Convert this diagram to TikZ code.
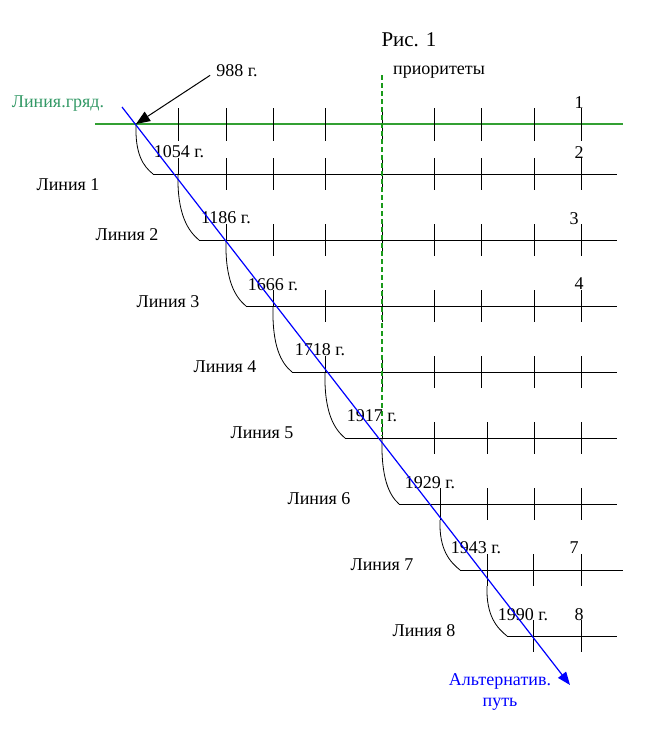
\documentclass[tikz,border=0pt]{standalone}
\usepackage{fontspec}
\setmainfont{Liberation Serif}
\usetikzlibrary{arrows.meta}
\definecolor{grgreen}{HTML}{33A033}
\definecolor{dashgreen}{HTML}{1A9A1A}
\definecolor{txtgreen}{HTML}{339966}
\newcommand{\labfont}{\fontsize{18}{20.5}\selectfont}
\tikzset{
  rowline/.style={line width=0.8pt},
  lab/.style={font=\labfont, inner sep=0pt},
}
\begin{document}
\begin{tikzpicture}[x=1pt, y=-1pt]
\useasboundingbox (0,0) rectangle (649,734);
% crossing points and left ends of the lines
\coordinate (c0) at (136,124);
\coordinate (c1) at (178,174);
\coordinate (c2) at (226,240);
\coordinate (c3) at (273,306);
\coordinate (c4) at (325,372);
\coordinate (c5) at (382,438);
\coordinate (c6) at (440,520);
\coordinate (c7) at (487,586);
\coordinate (L1) at (153,174);
\coordinate (L2) at (199,240);
\coordinate (L3) at (246,306);
\coordinate (L4) at (292,372);
\coordinate (L5) at (345,438);
\coordinate (L6) at (399,504);
\coordinate (L7) at (460,570);
\coordinate (L8) at (507,636);
% lines
\draw[grgreen, line width=1.1pt] (95,124) -- (623,124);
\draw[rowline] (L1) -- (617,174);
\draw[rowline] (L2) -- (617,240);
\draw[rowline] (L3) -- (617,306);
\draw[rowline] (L4) -- (617,372);
\draw[rowline] (L5) -- (617,438);
\draw[rowline] (L6) -- (617,504);
\draw[rowline] (L7) -- (623,570);
\draw[rowline] (L8) -- (617,636);
% ticks
\draw[rowline] (178,108) -- (178,141) (226,108) -- (226,141) (273,108) -- (273,141)
  (325,108) -- (325,141) (382,108) -- (382,141) (434,108) -- (434,141)
  (481,108) -- (481,141) (534,108) -- (534,141) (581,108) -- (581,141);
\draw[rowline] (178,158) -- (c1) (226,158) -- (226,190) (273,158) -- (273,190)
  (325,158) -- (325,190) (382,158) -- (382,190) (434,158) -- (434,190)
  (481,158) -- (481,190) (534,158) -- (534,190) (581,158) -- (581,190);
\draw[rowline] (226,224) -- (c2) (273,224) -- (273,256) (325,224) -- (325,256)
  (382,224) -- (382,256) (434,224) -- (434,256) (481,224) -- (481,256)
  (534,224) -- (534,256) (581,224) -- (581,256);
\draw[rowline] (273,290) -- (c3) (325,290) -- (325,322) (382,290) -- (382,322)
  (434,290) -- (434,322) (481,290) -- (481,322) (534,290) -- (534,322)
  (581,290) -- (581,322);
\draw[rowline] (325,356) -- (c4) (382,356) -- (382,388) (434,356) -- (434,388)
  (481,356) -- (481,388) (534,356) -- (534,388) (581,356) -- (581,388);
\draw[rowline] (382,422) -- (c5) (434,422) -- (434,454) (487,422) -- (487,454)
  (534,422) -- (534,454) (581,422) -- (581,454);
\draw[rowline] (440,488) -- (c6) (487,488) -- (487,520) (534,488) -- (534,520)
  (581,488) -- (581,520);
\draw[rowline] (487,554) -- (c7) (533,554) -- (533,586) (581,554) -- (581,586);
\draw[rowline] (533,620) -- (533,652) (581,620) -- (581,652);
% arcs down to the next line
\draw[rowline] (c0) .. controls +(-1,30) and +(-10,-8) .. (L1);
\draw[rowline] (c1) .. controls +(-1,40) and +(-11,-9) .. (L2);
\draw[rowline] (c2) .. controls +(-1,40) and +(-11,-9) .. (L3);
\draw[rowline] (c3) .. controls +(-1,40) and +(-11,-9) .. (L4);
\draw[rowline] (c4) .. controls +(-1,40) and +(-11,-9) .. (L5);
\draw[rowline] (c5) .. controls +(-1,40) and +(-10,-9) .. (L6);
\draw[rowline] (c6) .. controls +(-1,30) and +(-10,-8) .. (L7);
\draw[rowline] (c7) .. controls +(-1,30) and +(-10,-8) .. (L8);
% priorities
\draw[dashgreen, line width=1.3pt, dash pattern=on 5pt off 3pt] (382,75) -- (382,436);
% texts
\node[font=\fontsize{21}{24}\selectfont, inner sep=0pt] (fig) at (409,40) {Рис. 1};
\node[lab] (prio) at (439,72) {приоритеты};
\node[lab] (t988) at (237,71) {988 г.};
\node[lab, txtgreen] (grd) at (58,104) {Линия.гряд.};
\node[lab] (n1) at (579,103) {1};
\node[lab] (n2) at (579,153) {2};
\node[lab] (n3) at (574,219) {3};
\node[lab] (n4) at (579,284) {4};
\node[lab] (n7) at (574,548) {7};
\node[lab] (n8) at (579,615) {8};
\node[lab] (lin1) at (68,185) {Линия 1};
\node[lab] (lin2) at (127,235) {Линия 2};
\node[lab] (lin3) at (168,302) {Линия 3};
\node[lab] (lin4) at (225,367) {Линия 4};
\node[lab] (lin5) at (262,433) {Линия 5};
\node[lab] (lin6) at (319,499) {Линия 6};
\node[lab] (lin7) at (382,565) {Линия 7};
\node[lab] (lin8) at (424,631) {Линия 8};
\node[lab] (y1054) at (179,152) {1054 г.};
\node[lab] (y1186) at (226,218) {1186 г.};
\node[lab] (y1666) at (273,285) {1666 г.};
\node[lab] (y1718) at (320,350) {1718 г.};
\node[lab] (y1917) at (372,416) {1917 г.};
\node[lab] (y1929) at (430,483) {1929 г.};
\node[lab] (y1943) at (476,548) {1943 г.};
\node[lab] (y1990) at (523,615) {1990 г.};
\node[lab, blue, align=center] (alt) at (500,692) {Альтернатив.\\путь};
% alternative path
\coordinate (alt0) at (122,107);
\coordinate (altend) at (570,685);
\draw[blue, line width=1.2pt, -{Triangle[length=13pt,width=10pt]}] (alt0) -- (altend);
\draw[line width=1pt, -{Triangle[length=14pt,width=11pt]}] ([shift={(-6,-2)}]t988.south west) -- (c0);
\end{tikzpicture}
\end{document}
